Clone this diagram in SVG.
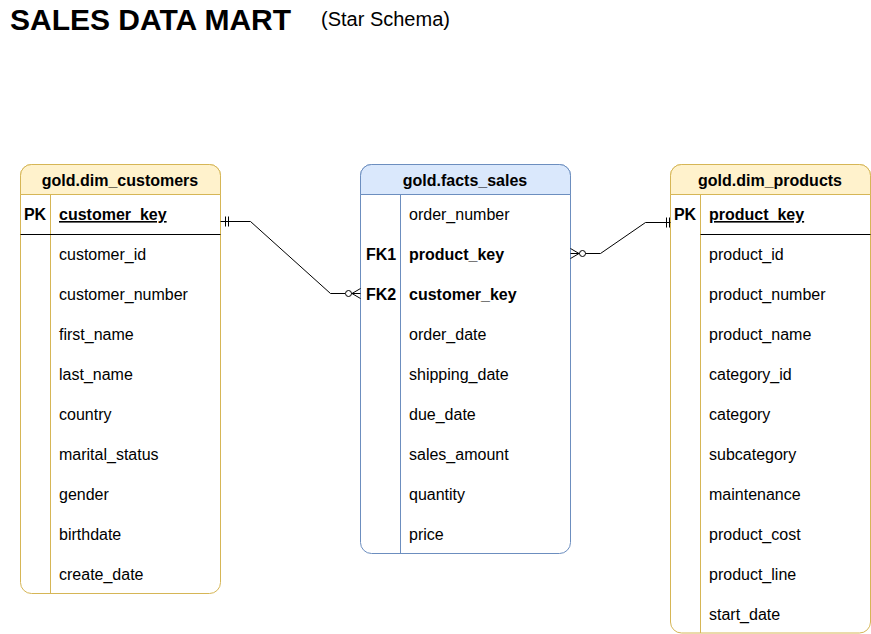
<svg xmlns="http://www.w3.org/2000/svg" width="871" height="634" viewBox="0 0 871 634">
<style>
text{font-family:"Liberation Sans",Arial,sans-serif;font-size:16px;fill:#000}
.b{font-weight:bold}
.h{font-weight:bold;text-anchor:middle}
.k{font-weight:bold;text-decoration:underline}
.m{text-anchor:middle}
.y{fill:#fff;stroke:#d6b656;stroke-width:1}
.yh{fill:#fff2cc;stroke:#d6b656;stroke-width:1}
.bl{fill:#fff;stroke:#6c8ebf;stroke-width:1}
.blh{fill:#dae8fc;stroke:#6c8ebf;stroke-width:1}
.ln{stroke:#000;stroke-width:1;fill:none}
.c{stroke:#000;stroke-width:1;fill:none}
</style>
<text x="10" y="30" class="b" style="font-size:30px">SALES DATA MART</text>
<text x="321" y="26" style="font-size:20px">(Star Schema)</text>

<g id="dim_customers">
<rect x="20.5" y="164.5" width="200" height="429" rx="11" class="y"/>
<path d="M20.5 194.5 V175.5 a11 11 0 0 1 11 -11 H209.5 a11 11 0 0 1 11 11 V194.5 Z" class="yh"/>
<line x1="50.5" y1="194.5" x2="50.5" y2="593.5" stroke="#d6b656"/>
<line x1="20.5" y1="234.5" x2="220.5" y2="234.5" class="ln"/>
<text x="120" y="186" class="h">gold.dim_customers</text>
<text x="35" y="220" class="b m">PK</text>
<text x="59" y="220" class="k">customer_key</text>
<text x="59" y="260">customer_id</text>
<text x="59" y="300">customer_number</text>
<text x="59" y="340">first_name</text>
<text x="59" y="380">last_name</text>
<text x="59" y="420">country</text>
<text x="59" y="460">marital_status</text>
<text x="59" y="500">gender</text>
<text x="59" y="540">birthdate</text>
<text x="59" y="580">create_date</text>
</g>

<g id="facts_sales">
<rect x="360.5" y="164.5" width="210" height="389" rx="11" class="bl"/>
<path d="M360.5 194.5 V175.5 a11 11 0 0 1 11 -11 H559.5 a11 11 0 0 1 11 11 V194.5 Z" class="blh"/>
<line x1="400.5" y1="194.5" x2="400.5" y2="553.5" stroke="#6c8ebf"/>
<text x="465" y="186" class="h">gold.facts_sales</text>
<text x="409" y="220">order_number</text>
<text x="381" y="260" class="b m">FK1</text>
<text x="409" y="260" class="b">product_key</text>
<text x="381" y="300" class="b m">FK2</text>
<text x="409" y="300" class="b">customer_key</text>
<text x="409" y="340">order_date</text>
<text x="409" y="380">shipping_date</text>
<text x="409" y="420">due_date</text>
<text x="409" y="460">sales_amount</text>
<text x="409" y="500">quantity</text>
<text x="409" y="540">price</text>
</g>

<g id="dim_products">
<rect x="670.5" y="164.5" width="200" height="468.5" rx="11" class="y"/>
<path d="M670.5 194.5 V175.5 a11 11 0 0 1 11 -11 H859.5 a11 11 0 0 1 11 11 V194.5 Z" class="yh"/>
<line x1="700.5" y1="194.5" x2="700.5" y2="633" stroke="#d6b656"/>
<line x1="700.5" y1="234.5" x2="870.5" y2="234.5" class="ln"/>
<text x="770" y="186" class="h">gold.dim_products</text>
<text x="685" y="220" class="b m">PK</text>
<text x="709" y="220" class="k">product_key</text>
<text x="709" y="260">product_id</text>
<text x="709" y="300">product_number</text>
<text x="709" y="340">product_name</text>
<text x="709" y="380">category_id</text>
<text x="709" y="420">category</text>
<text x="709" y="460">subcategory</text>
<text x="709" y="500">maintenance</text>
<text x="709" y="540">product_cost</text>
<text x="709" y="580">product_line</text>
<text x="709" y="620">start_date</text>
</g>

<g id="connectors">
<path d="M220.5 221.5 H250.5 L330.5 293.5 H345" class="c"/>
<line x1="225.5" y1="216.5" x2="225.5" y2="226.5" class="c"/>
<line x1="228.5" y1="216.5" x2="228.5" y2="226.5" class="c"/>
<circle cx="348.5" cy="293.5" r="3" class="c" fill="#fff"/>
<path d="M351.5 293.5 H360.5 M360.5 288.5 L352 293.5 L360.5 298.5" class="c"/>
<path d="M585.5 253.5 H600.5 L645.5 222.5 H670.5" class="c"/>
<circle cx="582.5" cy="253.5" r="3" class="c" fill="#fff"/>
<path d="M570.5 253.5 H579.5 M570.5 248.5 L579 253.5 L570.5 258.5" class="c"/>
<line x1="666.5" y1="217.5" x2="666.5" y2="227.5" class="c"/>
<line x1="669.5" y1="217.5" x2="669.5" y2="227.5" class="c"/>
</g>
</svg>
